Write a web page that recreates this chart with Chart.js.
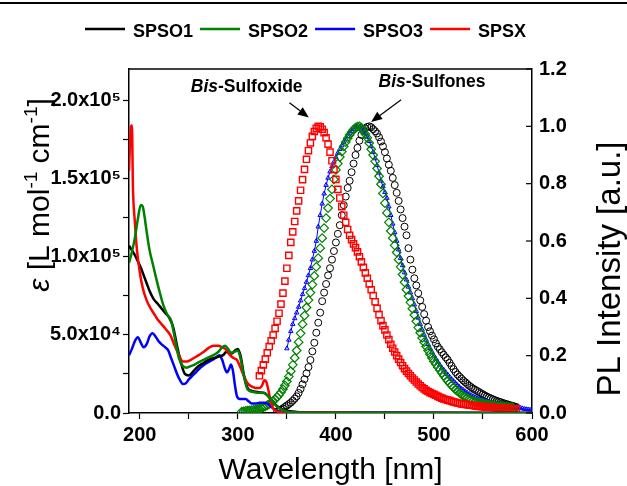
<!DOCTYPE html>
<html>
<head>
<meta charset="utf-8">
<script src="https://cdn.jsdelivr.net/npm/chart.js@4.4.0/dist/chart.umd.min.js"></script>
<style>
  body { margin: 0; background: #fff; }
  canvas { display: block; }
</style>
</head>
<body>
<canvas id="spectra" width="627" height="486"></canvas>
<script>
const FONT = "'Liberation Sans', Arial, sans-serif";

const seriesNames = ["SPSO1", "SPSO2", "SPSO3", "SPSX"];
const seriesColors = ["#000000", "#008000", "#0000ff", "#ff0000"];

// absorption (left axis), epsilon in units of 10^3 L mol-1 cm-1
const absWlSPSO1 = [189,192,195,198,201,204,207,210,214,218,222,226,230,234,238,242,246,250,255,260,265,270,275,280,285,288,291,294,297,300,303,306,310,315,320,325,328,332,336,340,345,350,355,360,380,420,500,600];
const absSPSO1 = [107,104,101,97,93,88,83,78,73,70,67,64,61,55,43,32,25,24,27,30,32,34,35,36,37,39,38.5,38,40,41,36,25,16,14,13.5,13,12.5,10,7,4.5,2.5,1.5,1,0.6,0.3,0.2,0.1,0];

const absWlSPSO2 = [189,192,195,198,201,203,205,207,210,213,216,220,224,228,232,236,240,244,248,252,256,260,265,270,275,280,284,287,290,293,296,300,303,306,310,315,320,325,328,332,336,340,345,350,355,360,400,500,600];
const absSPSO2 = [96,103,112,124,133,132,125,116,104,96,88,78,69,63,59,47,35,30,29,30,31,32.5,34,35.5,37,39,42,43,41,38.5,39,40,34,24,15,13.5,13,13,12.5,10,7,4,2,1,0.5,0.3,0.1,0,0];

const absWlSPSO3 = [189,192,195,198,201,204,207,210,213,216,219,222,226,229,232,235,238,241,244,247,250,254,258,262,266,270,274,278,281,284,287,289,291,293,295,297,299,302,305,308,311,314,318,322,326,330,334,338,342,350,400,500,600];
const absSPSO3 = [37,41,46,48.5,45,42,44,49,51,49,46,44,42,40,35,30,25,21,18.5,19,21.5,24,26.5,29,31,32.5,34,35.5,37,34,28,26,28,31,27,18,11,9,9,9,7.5,6,6,6.5,6.5,6,4,2,1,0.5,0.3,0.2,0];

const absWlSPSX = [189,190,191,192,193,195,197,200,203,207,211,215,218,222,226,231,235,240,244,248,252,256,260,265,270,275,280,284,288,292,296,299,302,306,310,314,318,322,325,327,329,331,333,336,340,345,360,400,500,600];
const absSPSX = [155,172,183,184,145,122,105,90,80,72,67,63,60,57,54,50,44,37,33,33,34,35.5,37,39,41.5,43,43,42,40.5,37,35,34,30,24,19,17,16,16,18,21,20,15,9,3,1,0.5,0.2,0.1,0,0];

// photoluminescence (right axis), sampled every 2 nm from the start wavelength
const plStep = 2;
const plStartSPSO1 = 340;
const plSPSO1 = [.005,.008,.012,.016,.021,.026,.031,.036,.043,.05,.058,.07,.084,.1,.118,.138,.16,.185,.215,.245,.28,.315,.35,.39,.42,.45,.48,.505,.535,.565,.595,.625,.655,.69,.725,.755,.785,.81,.84,.87,.9,.925,.95,.97,.985,.993,.998,1.0,.997,.99,.983,.975,.962,.947,.93,.91,.888,.866,.845,.82,.795,.768,.74,.71,.68,.65,.62,.575,.535,.5,.47,.445,.418,.393,.37,.345,.322,.3,.285,.27,.257,.243,.231,.222,.212,.203,.194,.186,.175,.164,.153,.143,.134,.127,.12,.113,.107,.101,.095,.09,.085,.081,.077,.073,.069,.065,.061,.057,.054,.051,.048,.045,.042,.04,.038,.035,.033,.031,.029,.027,.025,.023,.021];

const plStartSPSO2 = 304;
const plSPSO2 = [.005,.006,.007,.008,.009,.01,.011,.012,.013,.015,.017,.02,.023,.027,.031,.036,.042,.048,.055,.063,.072,.083,.096,.11,.127,.146,.168,.192,.218,.247,.278,.31,.34,.368,.394,.42,.448,.478,.51,.54,.575,.61,.645,.68,.715,.748,.78,.815,.848,.87,.893,.912,.93,.945,.958,.97,.98,.988,.995,.999,1.0,.995,.985,.973,.96,.942,.92,.9,.878,.853,.826,.798,.766,.732,.698,.665,.635,.61,.585,.56,.535,.51,.483,.456,.43,.408,.386,.364,.342,.32,.298,.28,.262,.247,.232,.218,.205,.192,.18,.17,.16,.15,.14,.13,.121,.112,.104,.096,.089,.082,.076,.07,.065,.06,.056,.052,.048,.045,.042,.04,.038,.036,.035,.034,.032,.031,.03,.028,.027,.026,.025,.024,.023,.022,.022,.021,.021,.02,.02];

const plStartSPSO3 = 350;
const plSPSO3 = [.225,.255,.285,.31,.33,.35,.37,.392,.414,.435,.457,.48,.505,.535,.565,.6,.65,.69,.73,.765,.795,.82,.842,.86,.876,.892,.907,.92,.933,.945,.956,.966,.975,.983,.99,.996,1.0,.998,.994,.986,.976,.963,.948,.93,.91,.888,.864,.838,.81,.79,.77,.75,.72,.69,.66,.63,.6,.57,.54,.515,.49,.465,.44,.42,.4,.378,.355,.332,.31,.29,.272,.255,.24,.226,.213,.2,.189,.178,.168,.158,.15,.142,.134,.126,.118,.111,.104,.097,.091,.085,.08,.075,.07,.066,.062,.058,.055,.052,.049,.047,.045,.043,.041,.039,.037,.035,.034,.032,.031,.03,.028,.027,.026,.025,.024,.023,.022,.021,.02,.018,.016,.014,.013,.012,.011,.01];

const plStartSPSX = 322;
const plSPSX = [.13,.148,.168,.188,.21,.232,.252,.272,.295,.32,.348,.38,.418,.46,.505,.55,.595,.632,.668,.705,.74,.777,.814,.85,.885,.915,.942,.965,.982,.993,1.0,.998,.99,.978,.96,.938,.91,.88,.85,.815,.78,.75,.72,.69,.665,.64,.62,.605,.59,.577,.562,.545,.527,.508,.489,.47,.45,.43,.41,.388,.365,.343,.322,.305,.29,.272,.256,.24,.226,.213,.2,.188,.176,.165,.155,.146,.138,.13,.122,.115,.108,.101,.095,.089,.084,.079,.075,.071,.068,.065,.062,.058,.055,.052,.049,.047,.045,.043,.041,.039,.037,.035,.034,.032,.031,.03,.029,.028,.027,.026,.025,.024,.023,.023,.022,.021,.021,.02,.02,.019,.019,.018,.018,.017,.017,.016,.016,.016,.015,.015,.015,.014];

const xTicksMajor = [200, 300, 400, 500, 600];
const supDigits = { 4: "\u2074", 5: "\u2075" };

function pairs(xs, ys) {
    return ys.map((y, i) => ({ x: xs[i], y: y }));
}
function grid(start, ys) {
    return ys.map((y, i) => ({ x: start + i * plStep, y: y }));
}

// left axis labels like 5.0x10^4 (values are in 10^3)
function sciLabel(v) {
    const real = v * 1000;
    if (real === 0) return "0.0";
    const e = Math.floor(Math.log10(real) + 1e-9);
    return (real / Math.pow(10, e)).toFixed(1) + "x10" + supDigits[e];
}

const absData = [pairs(absWlSPSO1, absSPSO1), pairs(absWlSPSO2, absSPSO2), pairs(absWlSPSO3, absSPSO3), pairs(absWlSPSX, absSPSX)];
const plData = [grid(plStartSPSO1, plSPSO1), grid(plStartSPSO2, plSPSO2), grid(plStartSPSO3, plSPSO3), grid(plStartSPSX, plSPSX)];
const plMarkers = ["circle", "rectRot", "triangle", "rect"];
const plRadius = [3.5, 4.3, 2.6, 4.4];
const plWidth = [1, 1.2, 1, 1.4];
const plLine = [false, false, true, false];
const absOrder = [2, 0, 3, 1];
const plOrder = [7, 5, 6, 4];

let datasets = [];
seriesNames.forEach((name, i) => {
    datasets.push({
        label: name,
        data: absData[i],
        yAxisID: "y",
        borderColor: seriesColors[i],
        borderWidth: 2.5,
        pointRadius: 0,
        cubicInterpolationMode: "monotone",
        order: absOrder[i],
    });
});
seriesNames.forEach((name, i) => {
    datasets.push({
        label: name + " PL",
        data: plData[i],
        yAxisID: "y1",
        showLine: plLine[i],
        borderColor: seriesColors[i],
        borderWidth: 1,
        pointStyle: plMarkers[i],
        pointRadius: plRadius[i],
        pointBorderWidth: plWidth[i],
        pointBorderColor: seriesColors[i],
        pointBackgroundColor: "rgba(0,0,0,0)",
        order: plOrder[i],
    });
});

// extra drawing: legend, rotated titles, inner ticks, frame and notes
const decorations = {
    id: "decorations",
    beforeDraw(chart) {
        const ctx = chart.ctx;
        ctx.save();
        ctx.fillStyle = "#fff";
        ctx.fillRect(0, 0, chart.width, chart.height);
        ctx.fillStyle = "#000";
        ctx.fillRect(0, 2, chart.width, 2);
        ctx.restore();
    },
    afterDraw(chart) {
        const ctx = chart.ctx;
        const area = chart.chartArea;
        const xs = chart.scales.x;
        const y1 = chart.scales.y1;
        ctx.save();

        // frame top edge
        ctx.strokeStyle = "#000";
        ctx.lineWidth = 1.5;
        ctx.beginPath();
        ctx.moveTo(area.left, area.top);
        ctx.lineTo(area.right, area.top);
        ctx.stroke();

        // right axis ticks point inward
        ctx.lineWidth = 1.2;
        y1.ticks.forEach((t) => {
            const py = y1.getPixelForValue(t.value);
            ctx.beginPath();
            ctx.moveTo(area.right - 6, py);
            ctx.lineTo(area.right, py);
            ctx.stroke();
        });

        // legend
        ctx.font = "bold 18px " + FONT;
        ctx.textBaseline = "alphabetic";
        let lx = 85;
        seriesNames.forEach((name, i) => {
            ctx.strokeStyle = seriesColors[i];
            ctx.lineWidth = 2.5;
            ctx.beginPath();
            ctx.moveTo(lx, 29);
            ctx.lineTo(lx + 40, 29);
            ctx.stroke();
            ctx.fillStyle = "#000";
            ctx.fillText(name, lx + 48, 37);
            lx += 48 + ctx.measureText(name).width + 7;
        });

        // left title: italic epsilon with superscripts
        const parts = [
            ["\u03b5", "italic 30px ", 0],
            [" [L mol", "30px ", 0],
            ["-1", "19px ", -12],
            [" cm", "30px ", 0],
            ["-1", "19px ", -12],
            ["]", "30px ", 0],
        ];
        let total = 0;
        parts.forEach((p) => {
            ctx.font = p[1] + FONT;
            total += ctx.measureText(p[0]).width;
        });
        ctx.translate(49, 195);
        ctx.rotate(-Math.PI / 2);
        ctx.fillStyle = "#000";
        let tx = -total / 2;
        parts.forEach((p) => {
            ctx.font = p[1] + FONT;
            ctx.fillText(p[0], tx, p[2]);
            tx += ctx.measureText(p[0]).width;
        });
        ctx.setTransform(1, 0, 0, 1, 0, 0);

        // right title
        ctx.translate(620, 269);
        ctx.rotate(-Math.PI / 2);
        ctx.font = "33px " + FONT;
        ctx.textAlign = "center";
        ctx.fillText("PL Intensity [a.u.]", 0, 0);
        ctx.setTransform(1, 0, 0, 1, 0, 0);
        ctx.textAlign = "left";

        // notes with arrows, placed in data units
        function note(wl, pl, rest) {
            const px = xs.getPixelForValue(wl);
            const py = y1.getPixelForValue(pl);
            ctx.font = "italic bold 17.5px " + FONT;
            ctx.fillText("Bis", px, py);
            const w = ctx.measureText("Bis").width;
            ctx.font = "bold 17.5px " + FONT;
            ctx.fillText(rest, px + w, py);
        }
        function arrow(wl1, pl1, wl2, pl2) {
            const x1 = xs.getPixelForValue(wl1), yA = y1.getPixelForValue(pl1);
            const x2 = xs.getPixelForValue(wl2), yB = y1.getPixelForValue(pl2);
            const ang = Math.atan2(yB - yA, x2 - x1);
            const head = 11;
            ctx.strokeStyle = "#000";
            ctx.lineWidth = 1.2;
            ctx.beginPath();
            ctx.moveTo(x1, yA);
            ctx.lineTo(x2 - head * Math.cos(ang), yB - head * Math.sin(ang));
            ctx.stroke();
            ctx.beginPath();
            ctx.moveTo(x2, yB);
            ctx.lineTo(x2 - head * Math.cos(ang) + 4.5 * Math.sin(ang), yB - head * Math.sin(ang) - 4.5 * Math.cos(ang));
            ctx.lineTo(x2 - head * Math.cos(ang) - 4.5 * Math.sin(ang), yB - head * Math.sin(ang) + 4.5 * Math.cos(ang));
            ctx.closePath();
            ctx.fill();
        }
        ctx.fillStyle = "#000";
        note(252, 1.12, "-Sulfoxide");
        note(443.5, 1.136, "-Sulfones");
        arrow(352.6, 1.082, 372.4, 1.031);
        arrow(466.5, 1.093, 435.9, 1.015);

        ctx.restore();
    },
};

new Chart(document.getElementById("spectra").getContext("2d"), {
    type: "line",
    data: { datasets: datasets },
    options: {
        responsive: false,
        animation: false,
        events: [],
        layout: { padding: { top: 69, left: 0, right: 0, bottom: 0 } },
        plugins: {
            legend: { display: false },
            tooltip: { enabled: false },
        },
        scales: {
            x: {
                type: "linear",
                position: "bottom",
                min: 189,
                max: 600,
                ticks: {
                    stepSize: 50,
                    includeBounds: false,
                    autoSkip: false,
                    maxRotation: 0,
                    padding: 4,
                    color: "#000",
                    font: { family: FONT, size: 20, weight: "bold" },
                    callback: (v) => (xTicksMajor.includes(v) ? String(v) : ""),
                },
                grid: { drawOnChartArea: false, tickLength: 6, tickColor: "#000", tickWidth: 1.2 },
                border: { color: "#000", width: 1.5 },
                title: {
                    display: true,
                    text: "Wavelength [nm]",
                    color: "#000",
                    padding: 0,
                    font: { family: FONT, size: 30, lineHeight: 1 },
                },
                afterFit: (scale) => { scale.height = 73; },
            },
            y: {
                position: "left",
                min: 0,
                max: 220,
                ticks: {
                    stepSize: 25,
                    includeBounds: false,
                    autoSkip: false,
                    padding: 2,
                    color: "#000",
                    font: { family: FONT, size: 20, weight: "bold" },
                    callback: (v) => (v % 50 === 0 ? sciLabel(v) : ""),
                },
                grid: { drawOnChartArea: false, tickLength: 6, tickColor: "#000", tickWidth: 1.2 },
                border: { color: "#000", width: 1.5 },
                afterFit: (scale) => { scale.width = 129; },
            },
            y1: {
                position: "right",
                min: 0,
                max: 1.2,
                ticks: {
                    stepSize: 0.2,
                    padding: 7,
                    color: "#000",
                    font: { family: FONT, size: 20, weight: "bold" },
                    callback: (v) => v.toFixed(1),
                },
                grid: { drawOnChartArea: false, drawTicks: false },
                border: { color: "#000", width: 1.5 },
                afterFit: (scale) => { scale.width = 95; },
            },
        },
    },
    plugins: [decorations],
});
</script>
</body>
</html>
